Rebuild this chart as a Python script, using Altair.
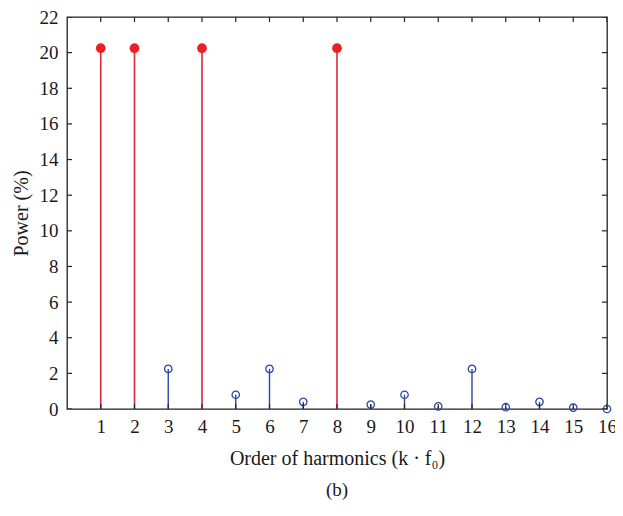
import altair as alt
import pandas as pd

# data
harmonics = list(range(1, 17))
power = [20.25, 20.25, 2.25, 20.25, 0.8, 2.25, 0.4, 20.25,
         0.25, 0.8, 0.15, 2.25, 0.1, 0.4, 0.08, 0.0]
dominant = [1, 2, 4, 8]
x_ticks = list(range(1, 17))
y_ticks = list(range(0, 23, 2))

df = pd.DataFrame({"k": harmonics, "p": power})
df["grp"] = ["main" if k in dominant else "other" for k in harmonics]
df["zero"] = 0.0

red_stem = "#d8283a"
red_dot = "#ea2027"
blue = "#2a48a6"
FONT = "Liberation Serif"
INK = "#1a1a1a"

xs = alt.Scale(domain=[0, 16], nice=False, zero=False)
ys = alt.Scale(domain=[0, 22], nice=False)

xaxis = alt.Axis(values=x_ticks, title="Order of harmonics (k · f₀)",
                 labelPadding=8, titlePadding=12, labelOverlap=False,
                 labelFlush=False, ticks=False, tickSize=0, domain=False,
                 grid=False, labelFontSize=19, titleFontSize=20,
                 titleFontWeight="normal", labelFont=FONT, titleFont=FONT,
                 labelColor=INK, titleColor=INK, labelSeparation=0)
yaxis = alt.Axis(values=y_ticks, title="Power (%)",
                 labelPadding=9, titlePadding=8, labelOverlap=False,
                 labelFlush=False, ticks=False, tickSize=0, domain=False,
                 grid=False, labelFontSize=19, titleFontSize=20,
                 titleFontWeight="normal", labelFont=FONT, titleFont=FONT,
                 labelColor=INK, titleColor=INK, labelSeparation=0)

X = alt.X("k:Q", scale=xs, axis=xaxis)
Y = alt.Y("p:Q", scale=ys, axis=yaxis)

base = alt.Chart(df)

stems_main = base.transform_filter(alt.datum.grp == "main").mark_rule(
    strokeWidth=1.6, color=red_stem).encode(x=X, y=Y, y2="zero:Q")
stems_other = base.transform_filter(alt.datum.grp == "other").mark_rule(
    strokeWidth=1.4, color=blue).encode(x=X, y=Y, y2="zero:Q")
dots_main = base.transform_filter(alt.datum.grp == "main").mark_point(
    filled=True, size=95, color=red_dot, opacity=1).encode(x=X, y=Y)
dots_other = base.transform_filter(alt.datum.grp == "other").mark_point(
    filled=False, size=55, color=blue, strokeWidth=1.3, opacity=1).encode(
    x=X, y=Y)

# inward ticks (half of each tick is clipped by the plot frame)
xt = pd.DataFrame({"k": x_ticks})
yt = pd.DataFrame({"p": y_ticks})
tick_style = dict(size=10, thickness=1.2, color="#222", clip=True, opacity=1)
xt_bottom = alt.Chart(xt).mark_tick(orient="vertical", **tick_style).encode(
    x=X, y=alt.YDatum(0, scale=ys, axis=yaxis))
xt_top = alt.Chart(xt).mark_tick(orient="vertical", **tick_style).encode(
    x=X, y=alt.YDatum(22, scale=ys, axis=yaxis))
yt_left = alt.Chart(yt).mark_tick(orient="horizontal", **tick_style).encode(
    y=Y, x=alt.XDatum(0, scale=xs, axis=xaxis))
yt_right = alt.Chart(yt).mark_tick(orient="horizontal", **tick_style).encode(
    y=Y, x=alt.XDatum(16, scale=xs, axis=xaxis))

chart = alt.layer(
    stems_main, stems_other, dots_other, dots_main,
    xt_bottom, xt_top, yt_left, yt_right
).properties(
    width=540, height=392,
    background="white",
    title=alt.TitleParams("(b)", orient="bottom", fontSize=19, font=FONT,
                          fontWeight="normal", color=INK, offset=13),
    autosize=alt.AutoSizeParams(type="none"),
    padding={"left": 59, "top": 9, "right": 8, "bottom": 99},
).configure_view(stroke="#222", strokeWidth=1.3).configure_axis(
    labelOverlap=False
)

chart.save("out.html", embed_options={"renderer": "svg", "actions": False})
